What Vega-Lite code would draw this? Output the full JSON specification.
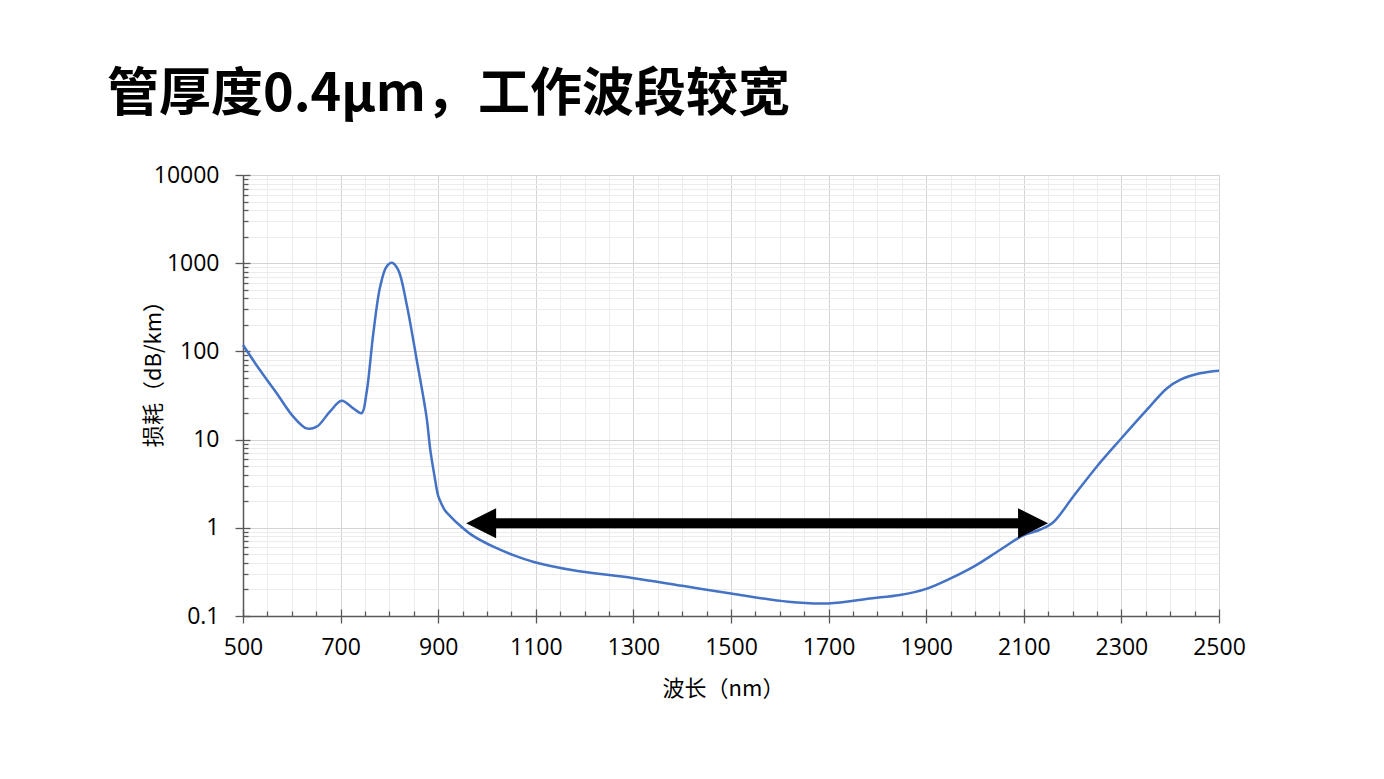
{
  "$schema": "https://vega.github.io/schema/vega-lite/v6.json",
  "width": 976,
  "height": 441,
  "autosize": {"type": "none"},
  "padding": {"left": 243, "top": 175, "right": 165, "bottom": 163},
  "background": "white",
  "config": {"view": {"stroke": null}},
  "title": {
    "text": "管厚度0.4μm，工作波段较宽",
    "anchor": "start",
    "frame": "group",
    "orient": "top",
    "font": "Noto Sans CJK SC",
    "fontSize": 52,
    "fontWeight": "bold",
    "color": "#000000",
    "baseline": "alphabetic",
    "offset": 53,
    "dy": 52,
    "dx": -136
  },
  "datasets": {
    "curve": [
      {"wl": 500, "loss": 118}, {"wl": 535, "loss": 61}, {"wl": 569, "loss": 33.5},
      {"wl": 603, "loss": 18.2}, {"wl": 630, "loss": 13.4}, {"wl": 651, "loss": 14},
      {"wl": 678, "loss": 20.7}, {"wl": 702, "loss": 27.6}, {"wl": 726, "loss": 22.6},
      {"wl": 743, "loss": 19.9}, {"wl": 753, "loss": 33.5}, {"wl": 767, "loss": 160},
      {"wl": 781, "loss": 540}, {"wl": 794, "loss": 910}, {"wl": 805, "loss": 1010},
      {"wl": 818, "loss": 840}, {"wl": 835, "loss": 350}, {"wl": 856, "loss": 80},
      {"wl": 876, "loss": 18.2}, {"wl": 884, "loss": 7.5}, {"wl": 893, "loss": 3.7},
      {"wl": 900, "loss": 2.3}, {"wl": 907, "loss": 1.85}, {"wl": 914, "loss": 1.57},
      {"wl": 925, "loss": 1.35}, {"wl": 940, "loss": 1.12}, {"wl": 970, "loss": 0.82},
      {"wl": 1013, "loss": 0.61}, {"wl": 1054, "loss": 0.49}, {"wl": 1096, "loss": 0.41},
      {"wl": 1177, "loss": 0.33}, {"wl": 1298, "loss": 0.27}, {"wl": 1400, "loss": 0.22},
      {"wl": 1500, "loss": 0.18}, {"wl": 1617, "loss": 0.145}, {"wl": 1700, "loss": 0.139},
      {"wl": 1785, "loss": 0.158}, {"wl": 1846, "loss": 0.173}, {"wl": 1900, "loss": 0.203},
      {"wl": 1949, "loss": 0.265}, {"wl": 2000, "loss": 0.37}, {"wl": 2051, "loss": 0.56},
      {"wl": 2099, "loss": 0.82}, {"wl": 2133, "loss": 0.95}, {"wl": 2160, "loss": 1.15},
      {"wl": 2201, "loss": 2.25}, {"wl": 2249, "loss": 4.9}, {"wl": 2297, "loss": 9.9},
      {"wl": 2352, "loss": 21.7}, {"wl": 2393, "loss": 38}, {"wl": 2420, "loss": 47.5},
      {"wl": 2461, "loss": 56.5}, {"wl": 2500, "loss": 60.5}
    ],
    "arrow": [{"wl": 990, "wl2": 2115, "loss": 1.125}],
    "heads": [
      {"wl": 988, "loss": 1.125, "dir": "left"},
      {"wl": 2119, "loss": 1.125, "dir": "right"}
    ]
  },
  "resolve": {"axis": {"x": "independent", "y": "independent"}},
  "layer": [
    {
      "data": {"name": "curve"},
      "mark": {"type": "line", "color": "#4472C4", "strokeWidth": 2.5, "interpolate": "catmull-rom"},
      "encoding": {
        "x": {
          "field": "wl", "type": "quantitative",
          "scale": {"domain": [500, 2500], "nice": false, "zero": false},
          "axis": {
            "orient": "bottom",
            "values": [500,550,600,650,700,750,800,850,900,950,1000,1050,1100,1150,1200,1250,1300,1350,1400,1450,1500,1550,1600,1650,1700,1750,1800,1850,1900,1950,2000,2050,2100,2150,2200,2250,2300,2350,2400,2450,2500],
            "labelExpr": "datum.value % 200 == 100 ? datum.label : ''",
            "format": "d",
            "grid": true,
            "gridColor": {"condition": {"test": "datum.value % 200 == 100", "value": "#D4D4D4"}, "value": "#ECECEC"},
            "gridWidth": 1,
            "tickSize": {"condition": {"test": "datum.value % 200 == 100", "value": 7}, "value": 0},
            "tickColor": "#595959",
            "tickWidth": 1.3,
            "domainColor": "#595959",
            "domainWidth": 1.5,
            "labelFont": "Open Sans",
            "labelFontSize": 23,
            "labelColor": "#000000",
            "labelPadding": 13,
            "labelFlush": false,
            "labelOverlap": false,
            "title": "波长（nm）",
            "titleFont": "Noto Sans CJK SC",
            "titleFontSize": 22,
            "titleFontWeight": "normal",
            "titleColor": "#000000",
            "titleX": 480,
            "titleY": 79,
            "titleAlign": "center",
            "titleBaseline": "alphabetic"
          }
        },
        "y": {
          "field": "loss", "type": "quantitative",
          "scale": {"type": "log", "domain": [0.1, 10000], "nice": false},
          "axis": {
            "orient": "left",
            "values": [0.1,0.2,0.3,0.4,0.5,0.6,0.7,0.8,0.9,1,2,3,4,5,6,7,8,9,10,20,30,40,50,60,70,80,90,100,200,300,400,500,600,700,800,900,1000,2000,3000,4000,5000,6000,7000,8000,9000,10000],
            "labelExpr": "indexof([0.1,1,10,100,1000,10000], datum.value) >= 0 ? format(datum.value, '~g') : ''",
            "grid": true,
            "gridColor": {"condition": {"test": "indexof([0.1,1,10,100,1000,10000], datum.value) >= 0", "value": "#D4D4D4"}, "value": "#ECECEC"},
            "tickSize": {"condition": {"test": "indexof([0.1,1,10,100,1000,10000], datum.value) >= 0", "value": 8}, "value": 0},
            "tickColor": "#595959",
            "tickWidth": 1.3,
            "domainColor": "#595959",
            "domainWidth": 1.5,
            "labelFont": "Open Sans",
            "labelFontSize": 23,
            "labelColor": "#000000",
            "labelPadding": 16,
            "labelFlush": false,
            "labelOverlap": false,
            "title": "损耗（dB/km）",
            "titleFont": "Noto Sans CJK SC",
            "titleFontSize": 22,
            "titleFontWeight": "normal",
            "titleColor": "#000000",
            "titleAngle": -90,
            "titleX": -83,
            "titleY": 193,
            "titleAlign": "center",
            "titleBaseline": "alphabetic"
          }
        }
      }
    },
    {
      "data": {"name": "curve"},
      "mark": {"type": "line", "strokeOpacity": 0},
      "encoding": {
        "x": {
          "field": "wl", "type": "quantitative",
          "axis": {
            "orient": "bottom",
            "values": [500,550,600,650,700,750,800,850,900,950,1000,1050,1100,1150,1200,1250,1300,1350,1400,1450,1500,1550,1600,1650,1700,1750,1800,1850,1900,1950,2000,2050,2100,2150,2200,2250,2300,2350,2400,2450,2500],
            "labels": false, "grid": false, "domain": false, "title": null,
            "tickSize": {"condition": {"test": "datum.value % 200 == 100", "value": -7}, "value": -5},
            "tickColor": "#595959",
            "tickWidth": 1.3
          }
        },
        "y": {
          "field": "loss", "type": "quantitative",
          "axis": {
            "orient": "left",
            "values": [0.1,0.2,0.3,0.4,0.5,0.6,0.7,0.8,0.9,1,2,3,4,5,6,7,8,9,10,20,30,40,50,60,70,80,90,100,200,300,400,500,600,700,800,900,1000,2000,3000,4000,5000,6000,7000,8000,9000,10000],
            "labels": false, "grid": false, "domain": false, "title": null,
            "tickSize": {"condition": {"test": "indexof([0.1,1,10,100,1000,10000], datum.value) >= 0", "value": -7}, "value": -5},
            "tickColor": "#595959",
            "tickWidth": 1.3
          }
        }
      }
    },
    {
      "data": {"name": "arrow"},
      "mark": {"type": "rule", "color": "#000000", "strokeWidth": 10, "strokeCap": "butt"},
      "encoding": {
        "x": {"field": "wl", "type": "quantitative", "axis": null},
        "x2": {"field": "wl2"},
        "y": {"field": "loss", "type": "quantitative", "axis": null}
      }
    },
    {
      "data": {"name": "heads"},
      "mark": {"type": "point", "filled": true, "color": "#000000", "opacity": 1, "size": 900, "strokeWidth": 0},
      "encoding": {
        "x": {"field": "wl", "type": "quantitative", "axis": null},
        "y": {"field": "loss", "type": "quantitative", "axis": null},
        "shape": {
          "field": "dir", "type": "nominal",
          "scale": {"domain": ["left", "right"], "range": ["M-1,0L1,-1L1,1Z", "M1,0L-1,-1L-1,1Z"]},
          "legend": null
        }
      }
    }
  ]
}
